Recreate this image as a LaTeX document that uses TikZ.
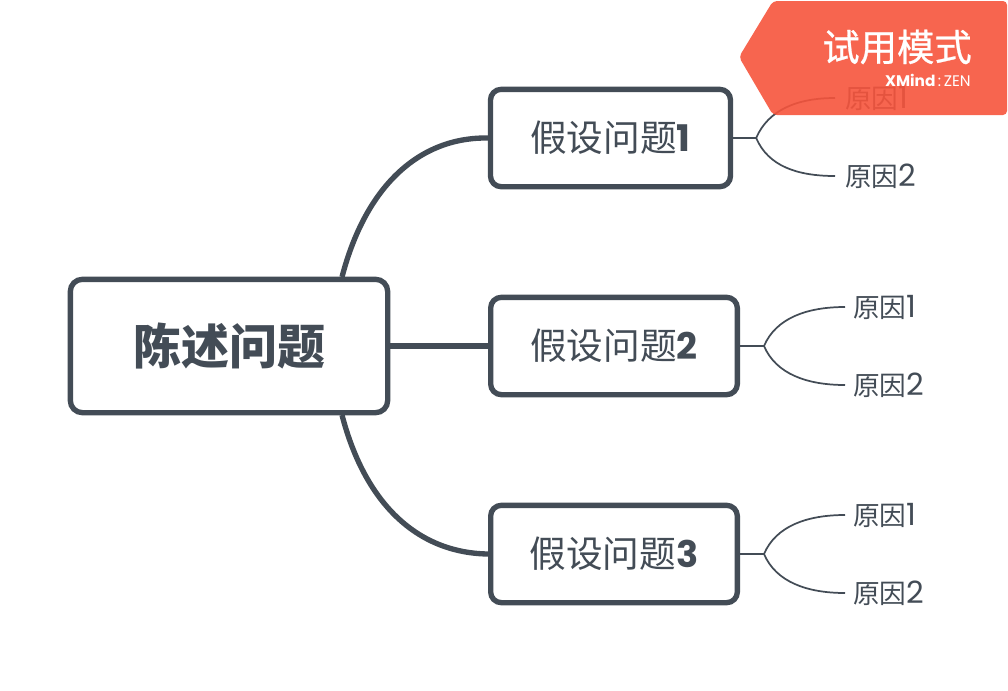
\documentclass[tikz,border=0pt]{standalone}
\usepackage{fontspec}
\setmainfont{Poppins}
\newfontfamily\cjk{Noto Sans CJK SC}
\newfontfamily\cjkmed[FakeBold=0.7]{Noto Sans CJK SC}
\newcommand{\whynum}[1]{{\normalfont\fontsize{23}{23}\selectfont #1}}
\definecolor{slate}{HTML}{434C56}
\definecolor{trial}{HTML}{F6543C}
\tikzset{
    rootbox/.style={draw=slate, line width=4pt, rounded corners=9pt, fill=white, text=slate, minimum width=238pt, minimum height=100pt, inner sep=0pt},
    askbox/.style={draw=slate, line width=4pt, rounded corners=8pt, fill=white, text=slate, minimum height=73pt, inner sep=0pt},
    reason/.style={anchor=west, text=slate, inner sep=0pt, font=\fontsize{20}{20}\selectfont},
    bigline/.style={draw=slate, line width=4pt},
    thinline/.style={draw=slate, line width=1.3pt}
}
\begin{document}
\begin{tikzpicture}[x=0.75pt, y=-0.75pt]
    \useasboundingbox (0, 0) rectangle (1008, 690);

    \node (root) [rootbox, font=\fontsize{36}{36}\selectfont] at (229, 346) {\cjk\bfseries 陈述问题};
    \node (ask1) [askbox, minimum width=180pt] at (610.5, 138) {\fontsize{27.5}{27.5}\selectfont\cjk 假设问题\normalfont\bfseries 1};
    \node (ask2) [askbox, minimum width=185pt] at (614, 346) {\fontsize{27.5}{27.5}\selectfont\cjk 假设问题\normalfont\bfseries 2};
    \node (ask3) [askbox, minimum width=185pt] at (614, 554) {\fontsize{27.5}{27.5}\selectfont\cjk 假设问题\normalfont\bfseries 3};

    \coordinate (rootup) at (342, 277);
    \coordinate (rootdown) at (342, 415);
    \draw[bigline] (rootup) .. controls (366, 185) and (420, 137) .. (ask1.west);
    \draw[bigline] (root.east) -- (ask2.west);
    \draw[bigline] (rootdown) .. controls (366, 507) and (420, 553) .. (ask3.west);

    \node (why11) [reason] at (845, 98) {\cjk 原因\whynum{1}};
    \node (why12) [reason] at (845, 176) {\cjk 原因\whynum{2}};
    \node (why21) [reason] at (853, 307) {\cjk 原因\whynum{1}};
    \node (why22) [reason] at (853, 385) {\cjk 原因\whynum{2}};
    \node (why31) [reason] at (853, 515) {\cjk 原因\whynum{1}};
    \node (why32) [reason] at (853, 593) {\cjk 原因\whynum{2}};

    \draw[thinline] (ask1.east) -- ++(23, 0) coordinate (fork1) .. controls ++(12, -28) and ++(-38, 0) .. ([xshift=-7.5pt]why11.west);
    \draw[thinline] (fork1) .. controls ++(12, 28) and ++(-38, 0) .. ([xshift=-7.5pt]why12.west);
    \draw[thinline] (ask2.east) -- ++(24, 0) coordinate (fork2) .. controls ++(12, -28) and ++(-38, 0) .. ([xshift=-6pt]why21.west);
    \draw[thinline] (fork2) .. controls ++(12, 28) and ++(-38, 0) .. ([xshift=-6pt]why22.west);
    \draw[thinline] (ask3.east) -- ++(24, 0) coordinate (fork3) .. controls ++(12, -28) and ++(-38, 0) .. ([xshift=-6pt]why31.west);
    \draw[thinline] (fork3) .. controls ++(12, 28) and ++(-38, 0) .. ([xshift=-6pt]why32.west);

    % trial badge sits over the first reason
    \fill[trial, opacity=0.9, rounded corners=3pt] (773, 1) -- (1007, 1) -- (1007, 115) -- (773, 115) -- (739, 57) -- cycle;
    \node (trialtext) [anchor=east, text=white, inner sep=0pt, font=\fontsize{28}{28}\selectfont] at (972, 47) {\cjkmed 试用模式};
    \node (trialbrand) [anchor=east, text=white, inner sep=0pt, font=\fontsize{11.5}{11.5}\selectfont] at (971, 80) {\textbf{XMind}\,:\,ZEN};
\end{tikzpicture}
\end{document}
